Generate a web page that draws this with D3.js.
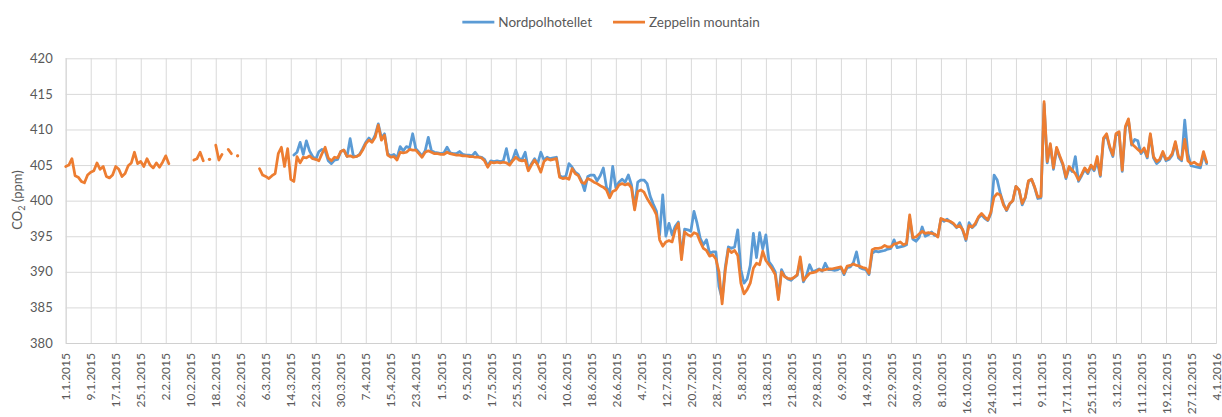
<!DOCTYPE html>
<html>
<head>
<meta charset="utf-8">
<script src="https://cdn.jsdelivr.net/npm/d3@7"></script>
<style>
  body { margin: 0; background: #fff; }
  svg text { font-family: Lato, "Open Sans", sans-serif; fill: #595959; }
</style>
</head>
<body>
<svg id="chart" width="1222" height="417"></svg>
<script>
// CO2 2015: two stations, one value per day starting 1.1.2015 (null = no data)

var startLabel = "1.1.2015";

var tickLabels = [
  "1.1.2015", "9.1.2015", "17.1.2015", "25.1.2015", "2.2.2015", "10.2.2015", "18.2.2015", "26.2.2015",
  "6.3.2015", "14.3.2015", "22.3.2015", "30.3.2015", "7.4.2015", "15.4.2015", "23.4.2015", "1.5.2015",
  "9.5.2015", "17.5.2015", "25.5.2015", "2.6.2015", "10.6.2015", "18.6.2015", "26.6.2015", "4.7.2015",
  "12.7.2015", "20.7.2015", "28.7.2015", "5.8.2015", "13.8.2015", "21.8.2015", "29.8.2015", "6.9.2015",
  "14.9.2015", "22.9.2015", "30.9.2015", "8.10.2015", "16.10.2015", "24.10.2015", "1.11.2015", "9.11.2015",
  "17.11.2015", "25.11.2015", "3.12.2015", "11.12.2015", "19.12.2015", "27.12.2015", "4.1.2016"
];

var yTicks = [380, 385, 390, 395, 400, 405, 410, 415, 420];

var seriesNames = ["Nordpolhotellet", "Zeppelin mountain"];
var seriesColors = ["#5B9BD5", "#ED7D31"];

var nordpol = [
  null, null, null, null, null, null, null, null, null, null,
  null, null, null, null, null, null, null, null, null, null,
  null, null, null, null, null, null, null, null, null, null,
  null, null, null, null, null, null, null, null, null, null,
  null, null, null, null, null, null, null, null, null, null,
  null, null, null, null, null, null, null, null, null, null,
  null, null, null, null, null, null, null, null, null, null,
  null, null, null, 406.4, 406.8, 408.2, 406.5, 408.4, 407.0, 406.2,
  405.8, 406.9, 407.2, 407.0, 405.6, 405.2, 405.7, 405.8, 406.9, 407.1,
  406.2, 408.7, 406.3, 406.2, 406.5, 407.3, 408.2, 408.8, 408.3, 409.2,
  410.8, 408.8, 409.4, 406.6, 406.3, 406.5, 406.0, 407.6, 407.0, 407.6,
  407.4, 409.4, 407.3, 406.8, 406.3, 407.0, 408.9, 407.0, 406.8, 406.7,
  406.6, 406.7, 407.5, 406.7, 406.6, 406.6, 406.9, 406.5, 406.4, 406.4,
  406.3, 406.8, 406.2, 406.1, 405.8, 404.9, 405.6, 405.5, 405.6, 405.5,
  405.6, 407.3, 405.2, 405.8, 407.1, 405.9, 405.8, 406.8, 404.4, 405.2,
  405.9, 405.2, 406.8, 405.7, 406.1, 405.9, 406.0, 406.1, 403.5, 403.3,
  403.4, 405.2, 404.7, 404.0, 403.7, 402.8, 401.4, 403.4, 403.6, 403.6,
  402.8, 403.5, 404.6, 401.9, 401.0, 404.8, 401.8, 402.6, 403.0, 402.6,
  403.6, 402.2, 399.0, 402.6, 402.9, 402.9, 402.4, 400.6, 399.5, 398.5,
  395.2, 400.8, 395.0, 396.8, 395.2, 396.4, 397.0, 392.2, 396.0, 395.9,
  395.7, 398.5, 396.8, 394.7, 393.8, 394.5, 392.6, 392.8, 392.8, 387.9,
  386.2, 390.6, 393.5, 393.3, 393.5, 395.9, 390.3, 388.4, 389.0, 390.9,
  395.4, 392.0, 395.5, 393.2, 395.2, 391.4, 390.8, 390.0, 386.5, 390.3,
  389.4, 389.0, 388.8, 389.2, 389.5, 391.5, 388.6, 389.5, 391.0, 390.0,
  390.2, 390.4, 390.1, 391.2, 390.3, 390.3, 390.2, 390.3, 390.6, 389.6,
  390.6, 390.7, 391.3, 392.8, 390.6, 390.4, 390.3, 389.6, 392.6, 392.9,
  392.8, 392.9, 393.0, 393.2, 393.3, 394.5, 393.4, 393.5, 393.6, 393.8,
  397.6, 394.6, 394.3, 394.8, 396.3, 395.0, 395.2, 395.6, 395.1, 395.0,
  397.4, 397.1, 397.4, 397.0, 396.7, 396.2, 396.9, 395.8, 394.4, 396.9,
  396.2, 396.6, 397.6, 398.0, 397.5, 397.2, 398.2, 403.6, 402.9, 401.0,
  399.6, 398.6, 399.5, 400.0, 402.0, 401.5, 399.4, 400.4, 402.7, 403.0,
  401.8, 400.3, 400.4, 413.6, 405.3, 407.8, 404.4, 407.3, 406.1, 405.0,
  403.1, 404.6, 404.1, 406.2, 402.7, 403.5, 404.4, 403.8, 404.8, 404.2,
  405.5, 403.4, 408.6, 409.2, 407.4, 406.2, 409.2, 409.5, 404.1, 410.2,
  411.3, 407.8, 408.6, 408.4, 406.6, 407.2, 406.0, 409.2, 406.0, 405.2,
  405.6, 406.7, 405.6, 405.8, 406.4, 408.1, 406.0, 405.6, 411.3, 406.6,
  404.9, 404.8, 404.7, 404.6, 406.5, 405.2
];

var zeppelin = [
  404.8, 405.0, 405.9, 403.5, 403.3, 402.7, 402.5, 403.6, 404.0, 404.2,
  405.3, 404.4, 404.8, 403.4, 403.2, 403.6, 404.8, 404.4, 403.4, 403.8,
  404.9, 405.3, 406.8, 405.2, 405.5, 404.8, 405.9, 405.0, 404.6, 405.3,
  404.7, 405.4, 406.3, 405.2, null, null, null, null, null, null,
  null, 405.7, 405.9, 406.8, 405.6, null, 405.8, null, 407.8, 405.7,
  406.5, null, 407.2, 406.6, null, 406.3, null, null, null, null,
  null, null, 404.5, 403.6, 403.4, 403.1, 403.5, 403.8, 406.6, 407.5,
  404.8, 407.3, 403.0, 402.7, 406.2, 405.3, 406.1, 406.0, 406.3, 405.9,
  405.8, 405.6, 406.6, 407.5, 406.0, 405.6, 406.1, 406.0, 406.9, 407.1,
  406.2, 406.3, 406.1, 406.2, 406.4, 407.1, 408.0, 408.5, 408.2, 408.9,
  410.6, 408.5, 409.2, 406.4, 406.1, 406.2, 405.7, 406.8, 406.7, 406.8,
  407.2, 407.1, 407.1, 406.6, 406.1, 406.8, 407.0, 406.8, 406.6, 406.6,
  406.5, 406.5, 406.8, 406.6, 406.5, 406.4, 406.4, 406.3, 406.3, 406.2,
  406.2, 406.1, 406.1, 406.0, 405.6, 404.7, 405.4, 405.3, 405.4, 405.3,
  405.4, 405.3, 405.0, 405.6, 406.1, 405.7, 405.6, 405.7, 404.2, 405.0,
  405.7, 405.0, 404.0, 405.5, 405.9, 405.7, 405.8, 405.9, 403.3, 403.1,
  403.2, 403.0, 404.5, 403.8, 403.5, 402.6, 402.4, 403.1, 402.9, 402.6,
  402.4, 402.1, 401.9, 401.5, 400.4, 401.3, 401.5, 402.2, 402.4, 402.2,
  402.4, 401.8, 398.7, 401.3, 401.5, 401.2, 400.3, 399.6, 398.9, 398.0,
  394.5, 393.6, 394.2, 394.4, 394.2, 395.9, 396.8, 391.7, 395.6, 395.2,
  395.0, 395.5, 395.3, 394.2, 393.3, 393.0, 392.2, 392.4, 391.8, 390.0,
  385.5, 390.2, 393.2, 392.7, 393.0, 392.3, 388.4, 386.9, 387.5, 388.4,
  390.5, 391.2, 391.0, 392.9, 391.6, 391.0, 390.4, 389.6, 386.1, 390.0,
  389.3, 389.1, 389.0, 389.2, 389.6, 392.1, 388.8, 389.3, 389.8, 389.9,
  390.0, 390.3, 390.2, 390.3, 390.4, 390.4, 390.5, 390.6, 390.7, 389.8,
  390.8, 390.9, 391.1, 390.9, 390.8, 390.6, 390.5, 389.8, 393.1, 393.3,
  393.3, 393.4, 393.7, 393.5, 393.5, 393.9, 394.0, 394.2, 393.8, 394.0,
  398.0, 394.8, 394.9, 395.3, 395.7, 395.4, 395.5, 395.4, 395.3, 394.9,
  397.5, 397.3, 397.2, 397.1, 396.8, 396.3, 396.5, 395.9, 394.6, 396.5,
  396.3, 396.8, 397.7, 398.2, 397.7, 397.3, 398.4, 400.5, 401.0, 400.8,
  399.4, 398.7, 399.6, 400.0, 402.0, 401.5, 399.6, 400.5, 402.8, 403.0,
  401.9, 400.5, 400.6, 413.9, 405.5, 408.0, 404.6, 407.5, 406.3, 405.2,
  403.3, 404.8, 404.3, 403.8, 402.9, 403.7, 404.6, 404.0, 405.0, 404.4,
  406.2, 403.6, 408.8, 409.4, 407.6, 406.4, 409.4, 409.7, 404.3, 410.4,
  411.5, 408.0, 407.6, 407.2, 406.8, 407.4, 406.2, 409.4, 406.2, 405.5,
  405.8, 406.9, 405.8, 406.0, 406.6, 408.3, 406.2, 405.8, 408.6, 405.6,
  405.2, 405.4, 405.1, 405.0, 406.9, 405.4
];

var svg = d3.select("#chart");
var plotLeft = 65.7, plotRight = 1216, plotTop = 58.3, plotBottom = 343;

var parse = d3.timeParse("%d.%m.%Y");
var start = parse(startLabel);
var tickDates = tickLabels.map(parse);

var x = d3.scaleTime()
    .domain([tickDates[0], tickDates[tickDates.length - 1]])
    .range([plotLeft, plotRight]);
var y = d3.scaleLinear().domain([380, 420]).range([plotBottom, plotTop]);

// horizontal grid + y labels
var gy = svg.append("g")
    .attr("transform", "translate(" + plotLeft + ",0)")
    .call(d3.axisLeft(y).tickValues(yTicks).tickSize(-(plotRight - plotLeft)).tickPadding(13));
gy.select(".domain").remove();
gy.selectAll("line").attr("stroke", "#d9d9d9");
gy.selectAll("text").style("font-size", "13px").style("fill", "#595959");

// vertical grid + rotated date labels
var gx = svg.append("g")
    .attr("transform", "translate(0," + plotBottom + ")")
    .call(d3.axisBottom(x).tickValues(tickDates).tickSize(-(plotBottom - plotTop))
      .tickFormat(function(d, i) { return tickLabels[i]; }));
gx.select(".domain").attr("stroke", "#d0d0d0");
gx.selectAll("line").attr("stroke", "#d9d9d9");
gx.selectAll("text")
    .attr("transform", "rotate(-90)")
    .attr("x", -10)
    .attr("y", 0)
    .attr("dy", "0.35em")
    .attr("text-anchor", "end")
    .style("font-size", "12px")
    .style("fill", "#595959");

// series
var line = d3.line()
    .defined(function(d) { return d.v != null; })
    .x(function(d) { return x(d.date); })
    .y(function(d) { return y(d.v); });

[nordpol, zeppelin].forEach(function(vals, k) {
  var pts = vals.map(function(v, i) { return {date: d3.timeDay.offset(start, i), v: v}; });
  svg.append("path")
      .datum(pts)
      .attr("fill", "none")
      .attr("stroke", seriesColors[k])
      .attr("stroke-width", 2.75)
      .attr("stroke-linejoin", "round")
      .attr("stroke-linecap", "round")
      .attr("d", line);
  // lone readings between gaps
  var lone = pts.filter(function(d, i) {
    return d.v != null && (i === 0 || vals[i - 1] == null) && (i === vals.length - 1 || vals[i + 1] == null);
  });
  svg.selectAll(null).data(lone).enter().append("circle")
      .attr("cx", function(d) { return x(d.date); })
      .attr("cy", function(d) { return y(d.v); })
      .attr("r", 1.6)
      .attr("fill", seriesColors[k]);
});

// y title
var yt = svg.append("text")
    .attr("transform", "translate(22,200) rotate(-90)")
    .attr("text-anchor", "middle")
    .style("font-size", "13px");
yt.append("tspan").text("CO");
yt.append("tspan").attr("dy", 3).style("font-size", "9px").text("2");
yt.append("tspan").attr("dy", -3).text(" (ppm)");

// legend
var legend = svg.append("g");
var lx = 0;
seriesNames.forEach(function(name, k) {
  var g = legend.append("g").attr("transform", "translate(" + lx + ",0)");
  g.append("line").attr("x1", 0).attr("x2", 32).attr("y1", 22).attr("y2", 22)
      .attr("stroke", seriesColors[k]).attr("stroke-width", 2.75);
  var t = g.append("text").attr("x", 36).attr("y", 26.5).style("font-size", "13.5px").text(name);
  lx += 36 + t.node().getComputedTextLength() + 21;
});
var lw = lx - 21;
legend.attr("transform", "translate(" + (611 - lw / 2) + ",0)");
</script>
</body>
</html>
